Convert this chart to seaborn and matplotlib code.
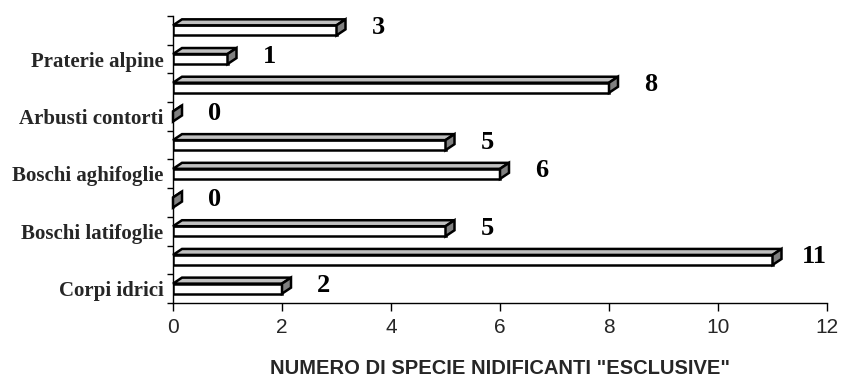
import matplotlib
matplotlib.use("Agg")
import matplotlib.pyplot as plt
from matplotlib.patches import Polygon
from matplotlib.transforms import IdentityTransform
import seaborn as sns
import pandas as pd
import numpy as np

# Data (top to bottom)
bar_ids = ["b10", "b9", "b8", "b7", "b6", "b5", "b4", "b3", "b2", "b1"]
tick_labels = ["", "Praterie alpine", "", "Arbusti contorti", "",
               "Boschi aghifoglie", "", "Boschi latifoglie", "", "Corpi idrici"]
values = [3, 1, 8, 0, 5, 6, 0, 5, 11, 2]
x_ticks = [0, 2, 4, 6, 8, 10, 12]
x_label = 'NUMERO DI SPECIE NIDIFICANTI "ESCLUSIVE"'

df = pd.DataFrame({"id": bar_ids, "value": values})

sns.set_theme(style="white")
plt.rcParams["font.family"] = ["Liberation Sans", "DejaVu Sans"]

fig = plt.figure(figsize=(8.41, 3.81), dpi=100)
ax = fig.add_axes([173 / 841, 1 - 303 / 381, (827 - 173) / 841, (303 - 16) / 381])

sns.barplot(data=df, x="value", y="id", order=bar_ids, orient="h", color="white",
            edgecolor="black", linewidth=1.8, width=0.35, ax=ax, saturation=1, zorder=3)

ax.set_xlim(0, 12)
ax.set_ylim(len(bar_ids) - 0.5, -0.5)
ax.set_xticks(x_ticks)
ax.set_xticklabels([str(t) for t in x_ticks], fontsize=15, family="Liberation Sans")
ax.set_yticks(np.arange(len(bar_ids) + 1) - 0.5)
ax.set_yticklabels([])
ax.set_yticks(np.arange(len(bar_ids)), minor=True)
ax.set_yticklabels(tick_labels, minor=True, fontsize=15, fontweight="bold",
                   family="Liberation Serif")
ax.tick_params(axis="y", which="major", length=4, width=1, color="black", direction="out", left=True)
ax.tick_params(axis="y", which="minor", length=0, pad=7)
ax.tick_params(axis="x", which="major", length=6, width=1, color="black", direction="out",
               bottom=True, pad=5)
for s in ["top", "right"]:
    ax.spines[s].set_visible(False)
for s in ["left", "bottom"]:
    ax.spines[s].set_color("black")
    ax.spines[s].set_linewidth(1)
ax.set_xlabel(x_label, fontsize=14.5, fontweight="bold", family="Liberation Sans", labelpad=16)
ax.set_ylabel("")
ax.grid(False)

# 3D faces computed from the bars drawn by seaborn
dx, dy = 9, 6
fig.canvas.draw()
for patch, v in zip(ax.patches, values):
    bb = patch.get_bbox()
    (x0, y0), (x1, y1) = ax.transData.transform([(bb.x0, bb.y0), (bb.x1, bb.y1)])
    left, right = min(x0, x1), max(x0, x1)
    bottom, top = min(y0, y1), max(y0, y1)
    topface = Polygon([(left, top), (right, top), (right + dx, top + dy), (left + dx, top + dy)],
                      closed=True, facecolor="#c0c0c0", edgecolor="black", linewidth=1.8,
                      transform=IdentityTransform(), zorder=4, clip_on=False)
    side = Polygon([(right, bottom), (right, top), (right + dx, top + dy), (right + dx, bottom + dy)],
                   closed=True, facecolor="#808080", edgecolor="black", linewidth=1.8,
                   transform=IdentityTransform(), zorder=4, clip_on=False)
    fig.add_artist(topface)
    fig.add_artist(side)
    ycen = (bb.y0 + bb.y1) / 2
    ax.annotate(str(v), xy=(v, ycen), xytext=(42, 3), textcoords="offset pixels",
                ha="center", va="center", fontsize=19, fontweight="bold",
                family="Liberation Serif", color="black", annotation_clip=False)

fig.savefig("out.png", dpi=100)
